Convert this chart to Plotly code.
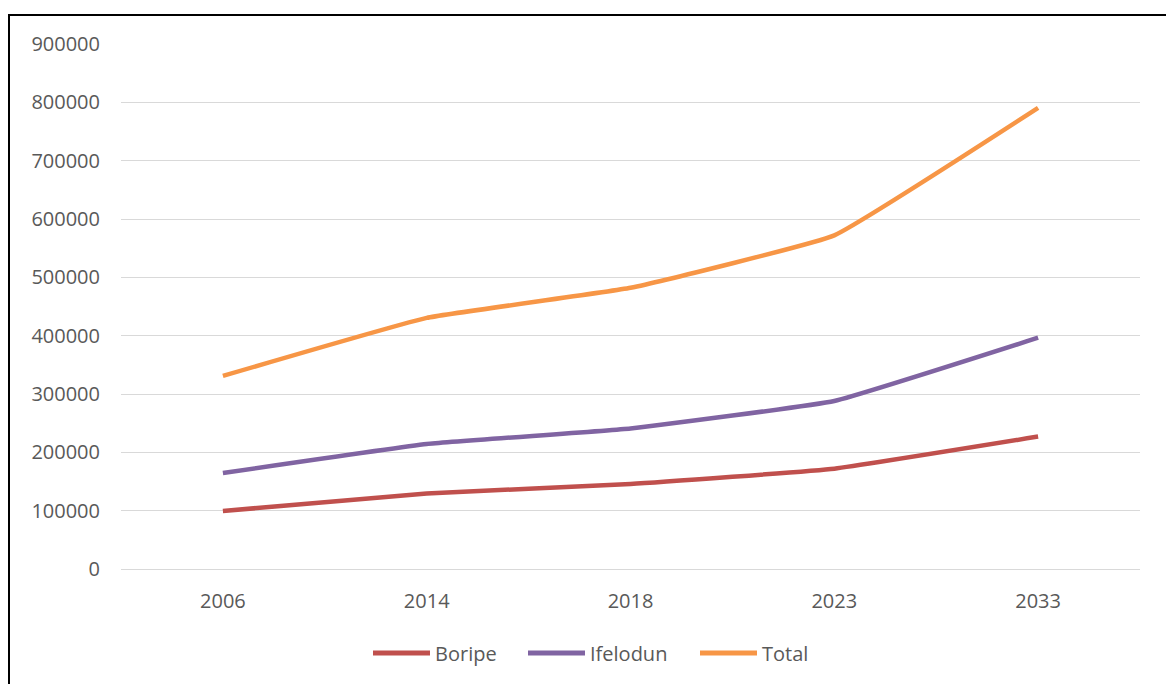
import plotly.graph_objects as go

years = ["2006", "2014", "2018", "2023", "2033"]
boripe = [99500, 129500, 145700, 172000, 227000]
ifelodun = [164600, 214300, 241000, 288000, 396500]
total = [331000, 430500, 482000, 572000, 790500]
y_ticks = [0, 100000, 200000, 300000, 400000, 500000, 600000, 700000, 800000, 900000]

series = [("Boripe", boripe, "#C0504D"), ("Ifelodun", ifelodun, "#8064A2"), ("Total", total, "#F79646")]

W, H = 1166, 684
L, R, T, B = 121, 26, 44, 115
pw, ph = W - L - R, H - T - B

def px_x(p):
    return (p - L) / pw

def px_y(p):
    return (H - B - p) / ph

fig = go.Figure()
for name, vals, color in series:
    fig.add_trace(go.Scatter(x=years, y=vals, name=name, mode="lines", showlegend=False,
                             line=dict(color=color, width=4.5, shape="spline", smoothing=0.3)))

fig.update_layout(
    width=W, height=H,
    margin=dict(l=L, r=R, t=T, b=B),
    paper_bgcolor="white", plot_bgcolor="white",
    font=dict(family="Open Sans", size=20, color="#595959"),
    showlegend=False,
    xaxis=dict(type="category", range=[-0.5, 4.5], showgrid=False, showline=False,
               ticks="", zeroline=False, ticklabelstandoff=18),
    yaxis=dict(range=[0, 900000], tickvals=y_ticks, ticktext=[str(v) for v in y_ticks],
               showgrid=True, gridcolor="#D9D9D9", gridwidth=1, zeroline=True,
               zerolinecolor="#D9D9D9", zerolinewidth=1, showline=False, ticks="",
               ticklabelstandoff=20),
)

# custom legend (swatch + label) below plot
legend_starts = [373, 528, 700]
for (name, vals, color), x0 in zip(series, legend_starts):
    fig.add_shape(type="line", xref="paper", yref="paper",
                  x0=px_x(x0), x1=px_x(x0 + 57), y0=px_y(653), y1=px_y(653),
                  line=dict(color=color, width=5))
    fig.add_annotation(xref="paper", yref="paper", x=px_x(x0 + 60), y=px_y(653),
                       text=name, showarrow=False, xanchor="left", yanchor="middle",
                       font=dict(size=20, color="#595959"))

fig.add_shape(type="rect", xref="paper", yref="paper",
              x0=px_x(9), x1=px_x(W + 20),
              y0=px_y(H + 20), y1=px_y(15),
              line=dict(color="black", width=2), fillcolor="rgba(0,0,0,0)", layer="above")

fig.write_html("out.html")
